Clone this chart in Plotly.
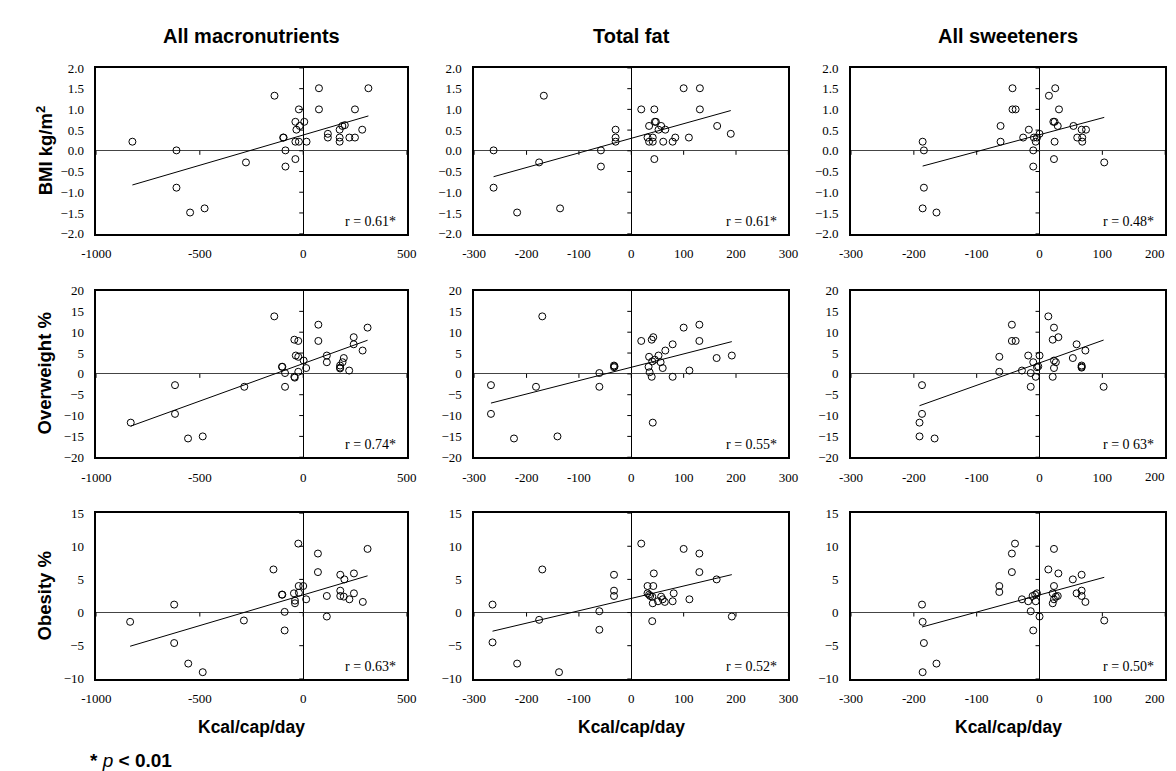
import numpy as np
import plotly.graph_objects as go

# ---------------- data ----------------
col_titles = ["All macronutrients", "Total fat", "All sweeteners"]
row_titles = ["BMI kg/m<sup>2</sup>", "Overweight %", "Obesity %"]
r_labels = [["r = 0.61*", "r = 0.61*", "r = 0.48*"],
            ["r = 0.74*", "r = 0.55*", "r = 0 63*"],
            ["r = 0.63*", "r = 0.52*", "r = 0.50*"]]
x_ranges = [[-1000, 500], [-300, 300], [-300, 200]]
x_dticks = [500, 100, 100]
y_ranges = [[-2, 2], [-20, 20], [-10, 15]]
y_dticks = [0.5, 5, 5]
x_title = "Kcal/cap/day"
footnote = "<b>*</b> <i>p</i> <b>&lt; 0.01</b>"

bmi_macro_x = [-826, -613, -613, -547, -477, -277, -139, -97, -95, -86, -86, -38, -38, -33, -38, -21, -21, -17,
               5, 16, 76, 76, 119, 119, 176, 176, 176, 189, 201, 223, 250, 250, 285, 315]
bmi_macro_y = [0.22, 0.01, -0.89, -1.49, -1.39, -0.28, 1.33, 0.32, 0.32, 0.01, -0.38, -0.20, 0.70, 0.51, 0.22,
               0.22, 1.00, 0.60, 0.70, 0.22, 1.51, 1.00, 0.41, 0.32, 0.51, 0.32, 0.22, 0.60, 0.62, 0.32, 0.32,
               1.00, 0.51, 1.51]

bmi_fat_x = [-263, -263, -218, -176, -167, -136, -58, -58, -30, -30, -30, 19, 31, 34, 34, 41, 41, 44, 45, 47,
             44, 52, 57, 61, 65, 79, 84, 100, 110, 131, 131, 164, 190]
bmi_fat_y = [0.01, -0.89, -1.49, -0.28, 1.33, -1.39, 0.01, -0.38, 0.51, 0.32, 0.22, 1.00, 0.32, 0.60, 0.22,
             0.32, 0.22, 1.00, 0.70, 0.70, -0.20, 0.51, 0.60, 0.22, 0.51, 0.22, 0.32, 1.51, 0.32, 1.51, 1.00,
             0.60, 0.41]

bmi_sweet_x = [-186, -184, -184, -186, -164, -62, -62, -43, -43, -38, -26, -17, -10, -10, -9, -6, -4, 0, 15,
               22, 24, 25, 24, 23, 29, 31, 54, 60, 67, 68, 68, 74, 103]
bmi_sweet_y = [0.22, 0.01, -0.89, -1.39, -1.49, 0.60, 0.22, 1.51, 1.00, 1.00, 0.32, 0.51, 0.01, -0.38, 0.32,
               0.22, 0.32, 0.41, 1.33, 0.70, 0.70, 1.51, 0.22, -0.20, 0.60, 1.00, 0.60, 0.32, 0.51, 0.32, 0.22,
               0.51, -0.28]

ow_macro_x = [-834, -620, -620, -557, -486, -285, -140, -103, -101, -88, -88, -43, -24, -36, -24, -43, -41, -24,
              2, 14, 73, 73, 114, 114, 178, 178, 178, 190, 196, 222, 244, 244, 287, 311]
ow_macro_y = [-11.7, -2.7, -9.6, -15.5, -15.0, -3.1, 13.8, 1.7, 1.7, 0.2, -3.1, 8.2, 7.9, 4.4, 4.1, -0.7, -0.9,
              0.5, 3.2, 1.4, 11.8, 7.9, 4.4, 2.8, 2.0, 1.5, 1.3, 2.8, 3.8, 0.8, 8.8, 7.1, 5.6, 11.1]

ow_fat_x = [-268, -268, -224, -182, -170, -141, -61, -61, -33, -33, -32, 19, 33, 34, 35, 39, 42, 39, 40, 41,
            45, 52, 56, 60, 65, 79, 79, 100, 111, 130, 130, 163, 192]
ow_fat_y = [-2.7, -9.6, -15.5, -3.1, 13.8, -15.0, 0.2, -3.1, 2.0, 1.6, 1.8, 7.9, 1.7, 4.1, 0.4, 8.2, 8.8, -0.7,
            3.0, -11.7, 3.4, 4.4, 2.8, 1.4, 5.6, -0.7, 7.1, 11.1, 0.8, 11.8, 7.9, 3.8, 4.4]

ow_sweet_x = [-187, -187, -191, -191, -167, -64, -64, -44, -44, -38, -28, -18, -14, -14, -10, -6, -4, -2, 0, 14,
              21, 23, 23, 26, 21, 23, 30, 53, 59, 67, 67, 67, 73, 102]
ow_sweet_y = [-2.7, -9.6, -11.7, -15.0, -15.5, 4.1, 0.5, 11.8, 7.9, 7.9, 0.8, 4.4, 0.2, -3.1, 2.8, -0.7, 1.6,
              1.8, 4.4, 13.8, 8.2, 11.1, 3.2, 2.8, -0.7, 1.4, 8.8, 3.8, 7.1, 1.7, 1.5, 2.0, 5.6, -3.1]

ob_macro_x = [-837, -624, -624, -556, -486, -287, -144, -103, -101, -90, -90, -45, -40, -40, -22, -24, -21, 0,
              14, 71, 71, 114, 114, 179, 179, 179, 196, 199, 223, 245, 245, 288, 311]
ob_macro_y = [-1.4, 1.2, -4.6, -7.7, -9.0, -1.2, 6.5, 2.7, 2.7, 0.1, -2.7, 2.9, 1.8, 1.4, 4.0, 10.4, 3.0, 4.0,
              2.0, 8.9, 6.1, 2.5, -0.6, 5.7, 3.3, 2.5, 2.4, 5.0, 2.0, 5.9, 2.9, 1.6, 9.6]

ob_fat_x = [-265, -265, -218, -176, -170, -138, -61, -61, -33, -33, -33, 19, 31, 31, 34, 36, 40, 41, 40, 42,
            43, 51, 57, 60, 64, 79, 81, 100, 111, 130, 130, 163, 192]
ob_fat_y = [1.2, -4.5, -7.7, -1.1, 6.5, -9.0, 0.2, -2.6, 5.7, 3.3, 2.5, 10.4, 4.0, 2.9, 2.7, 2.5, 2.4, 1.4,
            -1.3, 4.0, 5.9, 1.7, 2.4, 2.0, 1.6, 1.7, 2.9, 9.6, 2.0, 8.9, 6.1, 5.0, -0.6]

ob_sweet_x = [-187, -186, -184, -186, -164, -64, -64, -44, -44, -39, -28, -18, -14, -10, -11, -7, -4, -6, 0, 14,
              21, 21, 23, 23, 23, 26, 29, 30, 53, 59, 67, 67, 67, 73, 103]
ob_sweet_y = [1.2, -1.4, -4.6, -9.0, -7.7, 4.0, 3.1, 8.9, 6.1, 10.4, 2.0, 1.7, 0.2, -2.7, 2.5, 2.7, 2.9, 1.7,
              -0.6, 6.5, 2.9, 1.4, 9.6, 4.0, 2.0, 2.4, 2.5, 5.9, 5.0, 2.9, 5.7, 3.3, 2.5, 1.6, -1.2]

panels = [[(bmi_macro_x, bmi_macro_y), (bmi_fat_x, bmi_fat_y), (bmi_sweet_x, bmi_sweet_y)],
          [(ow_macro_x, ow_macro_y), (ow_fat_x, ow_fat_y), (ow_sweet_x, ow_sweet_y)],
          [(ob_macro_x, ob_macro_y), (ob_fat_x, ob_fat_y), (ob_sweet_x, ob_sweet_y)]]

# ---------------- layout geometry ----------------
W, H = 1176, 771
col_px = [(75, 392), (461, 782), (846, 1167)]
row_px = [(54, 223), (281, 451), (508, 677)]
col_dom = [[a / W, b / W] for a, b in col_px]
row_dom = [[1 - b / H, 1 - a / H] for a, b in row_px]

serif = "Liberation Serif"
sans = "Liberation Sans"

fig = go.Figure()
layout = dict(width=W, height=H, margin=dict(l=0, r=0, t=0, b=0),
              paper_bgcolor="white", plot_bgcolor="white", showlegend=False)
shapes = []
annotations = []

for r in range(3):
    for c in range(3):
        i = r * 3 + c + 1
        xs, ys = panels[r][c]
        xa = f"x{i}"
        ya = f"y{i}"
        fig.add_trace(go.Scatter(x=xs, y=ys, mode="markers", xaxis=xa, yaxis=ya,
                                 marker=dict(symbol="circle-open", size=7, color="black",
                                             line=dict(width=1, color="black")),
                                 cliponaxis=False))
        slope, icpt = np.polyfit(np.array(xs, float), np.array(ys, float), 1)
        lx = np.array([min(xs), max(xs)], float)
        fig.add_trace(go.Scatter(x=lx, y=slope * lx + icpt, mode="lines", xaxis=xa, yaxis=ya,
                                 line=dict(color="black", width=1)))
        x0, x1 = x_ranges[c]
        y0, y1 = y_ranges[r]
        xticks = [int(v) for v in np.arange(x0, x1 + 1e-9, x_dticks[c])]
        xtext = [str(v) for v in xticks]
        if c == 2:
            # rightmost label kept inside the page, right-aligned to the box edge
            xtext[-1] = ""
            annotations.append(dict(text=str(xticks[-1]), xref=xa, yref="paper", x=xticks[-1],
                                    y=row_dom[r][0], xanchor="right", yanchor="top", xshift=2,
                                    yshift=-10, showarrow=False,
                                    font=dict(family=serif, size=13, color="black")))
        layout[f"xaxis{i}"] = dict(domain=col_dom[c], anchor=ya, range=[x0, x1],
                                   tickmode="array", tickvals=xticks, ticktext=xtext,
                                   showgrid=False, zeroline=True, zerolinecolor="black",
                                   zerolinewidth=1, showline=True, mirror=True, linecolor="black",
                                   linewidth=1.6, ticks="outside", ticklen=7, tickcolor="rgba(0,0,0,0)",
                                   tickfont=dict(family=serif, size=13, color="black"), fixedrange=True)
        layout[f"yaxis{i}"] = dict(domain=row_dom[r], anchor=xa, range=[y0, y1], dtick=y_dticks[r],
                                   tick0=y0, showgrid=False, zeroline=True, zerolinecolor="#444",
                                   zerolinewidth=1.4, showline=True, mirror=True, linecolor="black",
                                   linewidth=1.6, ticks="outside", ticklen=8, tickcolor="rgba(0,0,0,0)",
                                   tickformat=".1f" if r == 0 else "d",
                                   tickfont=dict(family=serif, size=13, color="black"), fixedrange=True)
        # small tick marks on the zero-crossing axes
        for yv in np.arange(y0, y1 + 1e-9, y_dticks[r]):
            shapes.append(dict(type="line", xref=xa, yref=ya, xsizemode="pixel", xanchor=0,
                               x0=-4, x1=0, y0=float(yv), y1=float(yv),
                               line=dict(color="black", width=1)))
        for xv in xticks:
            shapes.append(dict(type="line", xref=xa, yref=ya, ysizemode="pixel", yanchor=0,
                               y0=0, y1=-4, x0=float(xv), x1=float(xv),
                               line=dict(color="black", width=1)))
        annotations.append(dict(text=r_labels[r][c], xref="paper", yref="paper",
                                x=col_dom[c][1], y=row_dom[r][0], xanchor="right", yanchor="bottom",
                                xshift=-9, yshift=3, showarrow=False,
                                font=dict(family=serif, size=14, color="black")))

for c in range(3):
    cx = (col_dom[c][0] + col_dom[c][1]) / 2
    annotations.append(dict(text=f"<b>{col_titles[c]}</b>", xref="paper", yref="paper", x=cx,
                            y=1 - 21 / H, xanchor="center", yanchor="middle", showarrow=False,
                            font=dict(family=sans, size=20, color="black")))
    annotations.append(dict(text=f"<b>{x_title}</b>", xref="paper", yref="paper", x=cx,
                            y=1 - 726 / H, xanchor="center", yanchor="middle", showarrow=False,
                            font=dict(family=sans, size=17.5, color="black")))

for r in range(3):
    cy = (row_dom[r][0] + row_dom[r][1]) / 2
    annotations.append(dict(text=f"<b>{row_titles[r]}</b>", xref="paper", yref="paper", x=22 / W,
                            y=cy, xanchor="center", yanchor="middle", textangle=-90, showarrow=False,
                            font=dict(family=sans, size=18.5, color="black")))

annotations.append(dict(text=footnote, xref="paper", yref="paper", x=66 / W, y=1 - 760 / H,
                        xanchor="left", yanchor="middle", showarrow=False,
                        font=dict(family=sans, size=19, color="black")))

layout["shapes"] = shapes
layout["annotations"] = annotations
fig.update_layout(**layout)
fig.write_html("out.html")
